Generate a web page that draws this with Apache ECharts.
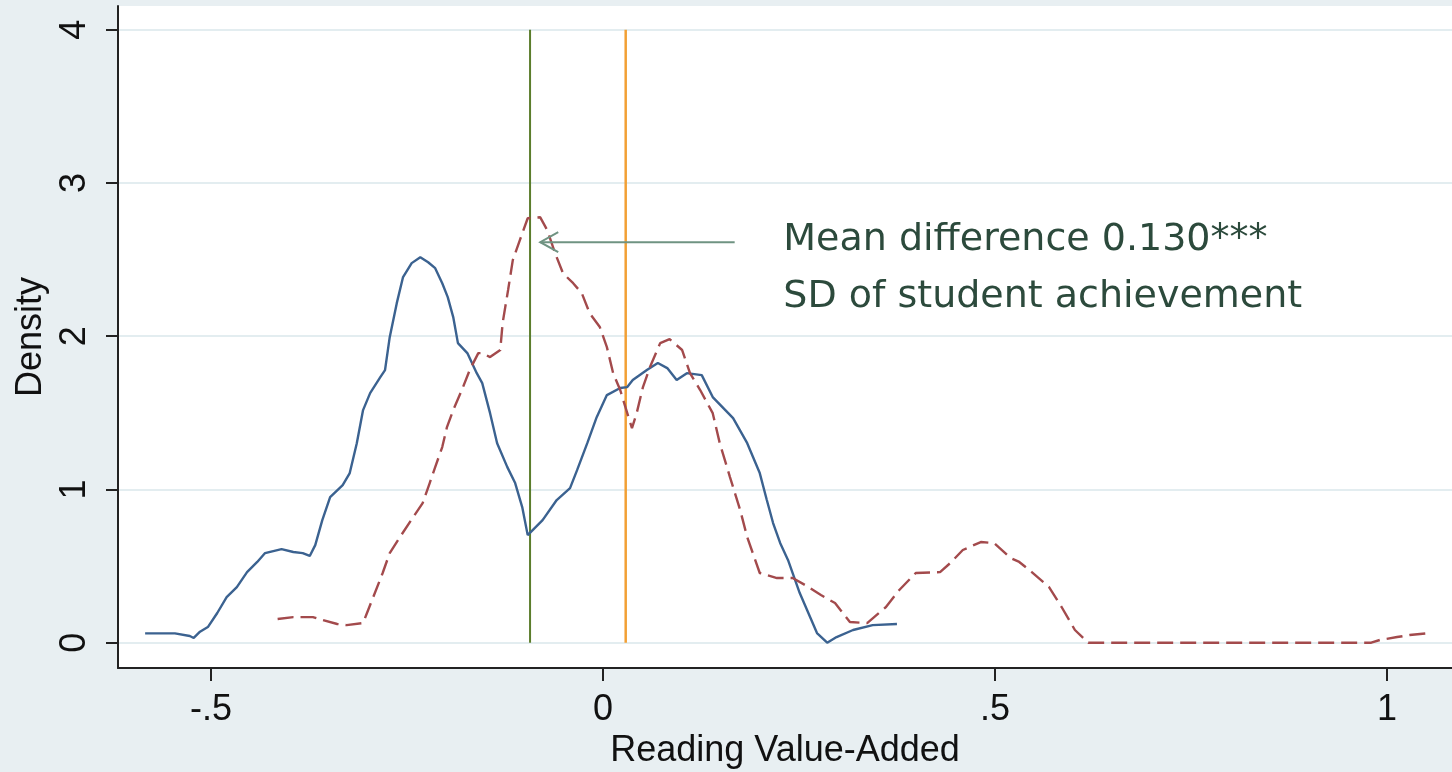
<!DOCTYPE html>
<html><head><meta charset="utf-8">
<script src="https://cdn.jsdelivr.net/npm/echarts@6/dist/echarts.min.js"></script>
<style>html,body{margin:0;padding:0;background:#e8eff2;}#c{width:1452px;height:772px;}</style>
</head><body><div id="c"></div>
<script>
// ---- data ----
const xTicks = [-0.5, 0, 0.5, 1];
const xTickLabels = ['-.5', '0', '.5', '1'];
const yTicks = [0, 1, 2, 3, 4];
const yTickLabels = ['0', '1', '2', '3', '4'];
const xTitle = 'Reading Value-Added';
const yTitle = 'Density';

// solid blue kernel density
const blueDensity = [
  [-0.584,0.061],[-0.546,0.061],[-0.527,0.044],[-0.522,0.031],[-0.514,0.072],[-0.504,0.102],
  [-0.492,0.194],[-0.480,0.298],[-0.467,0.363],[-0.454,0.461],[-0.441,0.527],[-0.431,0.585],
  [-0.410,0.611],[-0.395,0.592],[-0.383,0.585],[-0.374,0.566],[-0.367,0.637],[-0.358,0.800],
  [-0.348,0.950],[-0.332,1.028],[-0.323,1.107],[-0.314,1.302],[-0.306,1.518],[-0.297,1.629],
  [-0.284,1.733],[-0.278,1.779],[-0.272,1.994],[-0.263,2.216],[-0.255,2.386],[-0.244,2.477],
  [-0.233,2.516],[-0.223,2.483],[-0.214,2.444],[-0.205,2.346],[-0.198,2.255],[-0.191,2.125],
  [-0.185,1.955],[-0.173,1.890],[-0.161,1.759],[-0.154,1.694],[-0.144,1.498],[-0.135,1.302],
  [-0.122,1.146],[-0.112,1.042],[-0.103,0.885],[-0.096,0.702],[-0.077,0.800],[-0.059,0.931],
  [-0.042,1.009],[-0.033,1.126],[-0.020,1.302],[-0.008,1.472],[0.005,1.616],[0.022,1.662],
  [0.031,1.668],[0.038,1.714],[0.056,1.779],[0.070,1.825],[0.082,1.792],[0.094,1.714],
  [0.107,1.759],[0.126,1.746],[0.140,1.603],[0.166,1.466],[0.184,1.302],[0.200,1.107],
  [0.209,0.931],[0.217,0.781],[0.226,0.651],[0.236,0.540],[0.251,0.324],[0.273,0.063],
  [0.286,0.000],[0.298,0.037],[0.319,0.083],[0.344,0.115],[0.375,0.122]
];

// dashed red kernel density
const redDensity = [
  [-0.415,0.155],[-0.395,0.167],[-0.370,0.167],[-0.357,0.147],[-0.339,0.122],[-0.327,0.115],
  [-0.306,0.128],[-0.301,0.194],[-0.293,0.298],[-0.281,0.455],[-0.272,0.585],[-0.259,0.689],
  [-0.242,0.820],[-0.230,0.911],[-0.221,1.042],[-0.214,1.146],[-0.205,1.277],[-0.199,1.407],
  [-0.191,1.518],[-0.180,1.649],[-0.170,1.779],[-0.159,1.890],[-0.154,1.890],[-0.144,1.864],
  [-0.131,1.910],[-0.128,2.086],[-0.121,2.302],[-0.115,2.497],[-0.106,2.627],[-0.096,2.770],
  [-0.080,2.776],[-0.071,2.691],[-0.061,2.541],[-0.051,2.411],[-0.038,2.346],[-0.027,2.281],
  [-0.017,2.151],[-0.004,2.060],[0.005,1.929],[0.013,1.759],[0.022,1.649],[0.031,1.498],
  [0.037,1.400],[0.043,1.498],[0.051,1.668],[0.060,1.799],[0.073,1.955],[0.085,1.981],
  [0.101,1.910],[0.111,1.759],[0.124,1.649],[0.140,1.498],[0.149,1.302],[0.162,1.081],
  [0.175,0.866],[0.184,0.689],[0.200,0.455],[0.222,0.422],[0.242,0.422],[0.258,0.376],
  [0.278,0.311],[0.296,0.259],[0.315,0.135],[0.337,0.128],[0.361,0.233],[0.378,0.344],
  [0.399,0.455],[0.430,0.461],[0.443,0.520],[0.459,0.605],[0.482,0.657],[0.499,0.650],
  [0.520,0.553],[0.531,0.527],[0.547,0.461],[0.569,0.363],[0.585,0.233],[0.602,0.083],
  [0.619,0.000],[0.980,0.000],[0.991,0.018],[1.013,0.037],[1.029,0.050],[1.054,0.063]
];

// vertical mean lines (x position) spanning the y range below
const meanGreenX = -0.093;
const meanOrangeX = 0.029;
const meanLineSpan = [0, 4];

// annotation
const annotationLines = ['Mean difference 0.130***', 'SD of student achievement'];
const annotationAnchors = [[0.230, 2.627], [0.230, 2.255]];
const arrowFrom = [0.168, 2.614];
const arrowTo = [-0.080, 2.614];

// ---- chart ----
const AXIS_FONT = 'Liberation Sans, Arial, sans-serif';
const chart = echarts.init(document.getElementById('c'), null, {renderer: 'canvas'});

const option = {
  animation: false,
  backgroundColor: '#e8eff2',
  grid: {left: 118, right: 0, top: 6, bottom: 104, show: true, backgroundColor: '#ffffff', borderWidth: 0,
    containLabel: false, outerBoundsMode: 'none'},
  xAxis: {
    type: 'value', min: -0.6186, max: 1.083,
    name: xTitle, nameLocation: 'middle', nameGap: 65,
    nameTextStyle: {fontSize: 36, fontFamily: AXIS_FONT, color: '#111'},
    axisLine: {show: true, onZero: false, lineStyle: {color: '#222', width: 2}},
    axisTick: {show: true, length: 13, customValues: xTicks, lineStyle: {color: '#222', width: 2}},
    axisLabel: {customValues: xTicks, fontSize: 36, fontFamily: AXIS_FONT, color: '#111', margin: 24,
      formatter: v => { const i = xTicks.findIndex(t => Math.abs(t - v) < 1e-9); return i >= 0 ? xTickLabels[i] : ''; }},
    splitLine: {show: false}
  },
  yAxis: {
    type: 'value', min: -0.165, max: 4.155,
    name: yTitle, nameLocation: 'middle', nameGap: 65, nameRotate: 90,
    nameTextStyle: {fontSize: 36, fontFamily: AXIS_FONT, color: '#111'},
    axisLine: {show: true, onZero: false, lineStyle: {color: '#222', width: 2}},
    axisTick: {show: true, length: 12, customValues: yTicks, lineStyle: {color: '#222', width: 2}},
    axisLabel: {customValues: yTicks, rotate: 90, fontSize: 36, fontFamily: AXIS_FONT, color: '#111', margin: 25,
      formatter: v => { const i = yTicks.findIndex(t => Math.abs(t - v) < 1e-9); return i >= 0 ? yTickLabels[i] : ''; }},
    splitLine: {show: true, lineStyle: {color: '#e3edf0', width: 2}}
  },
  series: [
    {type: 'line', name: 'green', data: meanLineSpan.map(y => [meanGreenX, y]), showSymbol: false,
      lineStyle: {color: '#5b7d2c', width: 2}, z: 3},
    {type: 'line', name: 'orange', data: meanLineSpan.map(y => [meanOrangeX, y]), showSymbol: false,
      lineStyle: {color: '#f2a035', width: 2.5}, z: 3},
    {type: 'line', name: 'blue', data: blueDensity, showSymbol: false,
      lineStyle: {color: '#3b6290', width: 2.4}, z: 4},
    {type: 'line', name: 'red', data: redDensity, showSymbol: false,
      lineStyle: {color: '#a34a4c', width: 2.4, type: [16, 7]}, z: 4},
    {type: 'custom', name: 'annotation', data: [[arrowTo[0], arrowTo[1]]], z: 6, clip: false,
      renderItem: (params, api) => {
        const p1 = api.coord(arrowFrom), p2 = api.coord(arrowTo);
        const children = [
          {type: 'line', shape: {x1: p1[0], y1: p1[1], x2: p2[0], y2: p2[1]},
            style: {stroke: '#6f9382', lineWidth: 2}},
          {type: 'polyline', shape: {points: [[p2[0] + 18, p2[1] - 10], [p2[0], p2[1]], [p2[0] + 18, p2[1] + 10]]},
            style: {stroke: '#6f9382', lineWidth: 2, fill: null}}
        ];
        annotationLines.forEach((t, i) => {
          const p = api.coord(annotationAnchors[i]);
          children.push({type: 'text', x: p[0], y: p[1],
            style: {text: t, fill: '#2c4a3c', font: '38px "DejaVu Sans", sans-serif', textAlign: 'left', textVerticalAlign: 'middle'}});
        });
        return {type: 'group', children};
      }}
  ]
};
chart.setOption(option);
</script></body></html>
